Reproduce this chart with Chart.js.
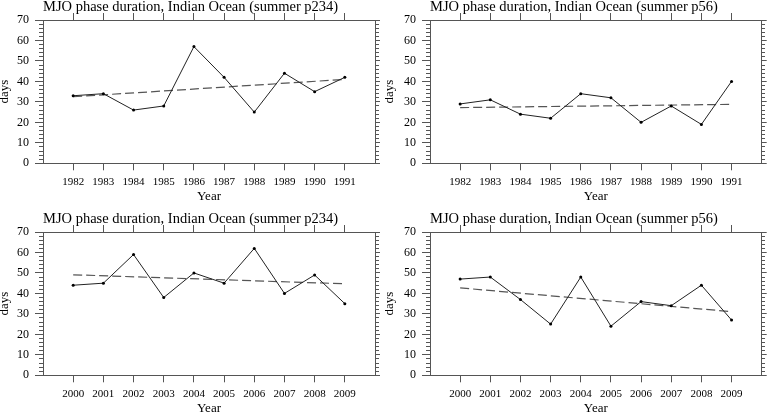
<!DOCTYPE html>
<html>
<head>
<meta charset="utf-8">
<script src="https://cdn.jsdelivr.net/npm/chart.js@4.4.1/dist/chart.umd.min.js"></script>
<style>
  body { margin: 0; background: #fff; overflow: hidden; }
  #wrap { position: relative; width: 770px; height: 414px; }
  canvas { position: absolute; }
</style>
</head>
<body>
<div id="wrap">
  <canvas id="c1" width="385" height="207" style="left:0;top:0"></canvas>
  <canvas id="c2" width="385" height="207" style="left:385px;top:0"></canvas>
  <canvas id="c3" width="385" height="207" style="left:0;top:212px"></canvas>
  <canvas id="c4" width="385" height="207" style="left:385px;top:212px"></canvas>
</div>
<script>
// years on the x axis
const yearsEarly = [1982, 1983, 1984, 1985, 1986, 1987, 1988, 1989, 1990, 1991];
const yearsLate = [2000, 2001, 2002, 2003, 2004, 2005, 2006, 2007, 2008, 2009];

// phase duration (days)
const p234Early = [33, 34, 26, 28, 57, 42, 25, 44, 35, 42];
const p56Early = [29, 31, 24, 22, 34, 32, 20, 28, 19, 40];
const p234Late = [44, 45, 59, 38, 50, 45, 62, 40, 49, 35];
const p56Late = [47, 48, 37, 25, 48, 24, 36, 34, 44, 27];

// trend line, value at first and last year
const trendP234Early = [32.5, 41.0];
const trendP56Early = [27.2, 28.8];
const trendP234Late = [49.1, 44.7];
const trendP56Late = [42.7, 31.1];

const yTickLabels = [0, 10, 20, 30, 40, 50, 60, 70];

const FONT = "'Liberation Serif', 'Times New Roman', serif";
const FRAME = '#555';

function makeChart(id, title, years, values, trend, leftW, rightW) {
  const pts = years.map((y, i) => ({ x: y, y: values[i] }));
  const trendPts = [
    { x: years[0], y: trend[0] },
    { x: years[years.length - 1], y: trend[1] }
  ];
  const setYears = s => { s.ticks = years.map(v => ({ value: v })); };
  const yMin = yTickLabels[0], yMax = yTickLabels[yTickLabels.length - 1];

  new Chart(document.getElementById(id), {
    type: 'line',
    data: {
      datasets: [{
        data: pts,
        borderColor: '#222',
        borderWidth: 1,
        pointRadius: 1.5,
        pointBackgroundColor: '#000',
        pointBorderWidth: 0
      }, {
        data: trendPts,
        borderColor: '#555',
        borderWidth: 1.2,
        borderDash: [9, 4],
        pointRadius: 0
      }]
    },
    options: {
      responsive: false,
      animation: false,
      layout: { padding: 0 },
      plugins: {
        legend: { display: false },
        tooltip: { enabled: false },
        title: {
          display: true,
          text: title,
          align: 'start',
          fullSize: false,
          color: '#000',
          font: { family: FONT, size: 14.5, weight: 'normal', lineHeight: 1 },
          padding: { top: 0, bottom: 0 }
        }
      },
      scales: {
        x: {
          type: 'linear',
          position: 'bottom',
          min: years[0] - 1,
          max: years[years.length - 1] + 1,
          afterBuildTicks: setYears,
          afterFit: s => { s.height = 43.7; },
          ticks: {
            color: '#000',
            padding: 5,
            font: { family: FONT, size: 11 },
            callback: v => String(v)
          },
          grid: { drawOnChartArea: false, tickLength: 7, color: FRAME, tickColor: FRAME },
          border: { color: FRAME },
          title: {
            display: true,
            text: 'Year',
            color: '#000',
            font: { family: FONT, size: 13, lineHeight: 1 },
            padding: { top: 0, bottom: 3.8 }
          }
        },
        xTop: {
          type: 'linear',
          position: 'top',
          min: years[0] - 1,
          max: years[years.length - 1] + 1,
          afterBuildTicks: setYears,
          afterFit: s => { s.height = 5.5; },
          ticks: { display: false },
          grid: { drawOnChartArea: false, tickLength: 7, color: FRAME, tickColor: FRAME },
          border: { color: FRAME }
        },
        y: {
          position: 'left',
          min: yMin,
          max: yMax,
          afterFit: s => { s.width = leftW; },
          ticks: {
            stepSize: 2,
            autoSkip: false,
            color: '#000',
            padding: 6,
            font: { family: FONT, size: 12 },
            callback: v => (yTickLabels.includes(v) ? String(v) : '')
          },
          grid: {
            drawOnChartArea: false,
            tickLength: 8,
            color: FRAME,
            tickColor: FRAME,
            tickBorderDash: ctx => (ctx.tick && yTickLabels.includes(ctx.tick.value)) ? [] : [0, 4, 4, 100]
          },
          border: { color: FRAME },
          title: {
            display: true,
            text: 'days',
            color: '#000',
            font: { family: FONT, size: 13, lineHeight: 1 },
            padding: { top: -1.5, bottom: 0 }
          }
        },
        yRight: {
          position: 'right',
          min: yMin,
          max: yMax,
          afterFit: s => { s.width = rightW; },
          ticks: { display: false, stepSize: 2, autoSkip: false },
          grid: {
            drawOnChartArea: false,
            tickLength: 5,
            color: FRAME,
            tickColor: FRAME,
            tickBorderDash: ctx => (ctx.tick && yTickLabels.includes(ctx.tick.value)) ? [] : [3, 100]
          },
          border: { color: FRAME }
        }
      }
    }
  });
}

makeChart('c1', 'MJO phase duration, Indian Ocean (summer p234)', yearsEarly, p234Early, trendP234Early, 43, 10);
makeChart('c2', 'MJO phase duration, Indian Ocean (summer p56)', yearsEarly, p56Early, trendP56Early, 45, 8.3);
makeChart('c3', 'MJO phase duration, Indian Ocean (summer p234)', yearsLate, p234Late, trendP234Late, 43, 10);
makeChart('c4', 'MJO phase duration, Indian Ocean (summer p56)', yearsLate, p56Late, trendP56Late, 45, 8.3);
</script>
</body>
</html>
